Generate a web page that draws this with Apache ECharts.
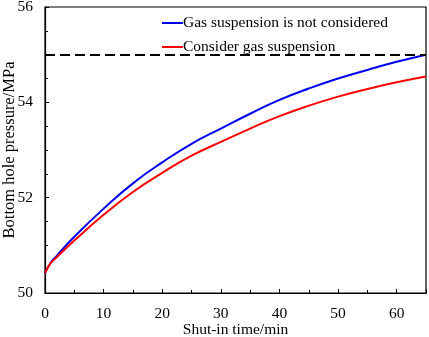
<!DOCTYPE html>
<html><head><meta charset="utf-8">
<script src="https://cdn.jsdelivr.net/npm/echarts@6/dist/echarts.min.js"></script>
<style>html,body{margin:0;padding:0;background:#fff}#c{width:429px;height:337px}</style>
</head><body><div id="c"></div>
<script>
const time = [0, 1, 2, 5, 10, 15, 20, 25, 30, 35, 40, 45, 50, 55, 60, 65];
const notConsidered = [50.42, 50.64, 50.78, 51.18, 51.77, 52.30, 52.74, 53.13, 53.45, 53.76, 54.05, 54.29, 54.50, 54.68, 54.85, 55.00];
const considered = [50.42, 50.63, 50.75, 51.10, 51.64, 52.12, 52.52, 52.88, 53.17, 53.45, 53.71, 53.93, 54.12, 54.28, 54.42, 54.54];
const referencePressure = 55;
const seriesNames = ['Gas suspension is not considered', 'Consider gas suspension'];

const font = 'Liberation Serif, Times New Roman, serif';
const chart = echarts.init(document.getElementById('c'), null, {renderer: 'canvas'});
chart.setOption({
  animation: false,
  grid: {left: 45, right: 3, top: 7, bottom: 44, containLabel: false, outerBoundsMode: 'none',
         show: true, borderColor: '#000', borderWidth: 1.2, backgroundColor: 'transparent'},
  legend: {
    left: 157, top: 10, orient: 'vertical', itemGap: 8,
    itemWidth: 21, itemHeight: 2, icon: 'rect',
    textStyle: {fontFamily: font, fontSize: 15.5, color: '#000', padding: [0, 0, 0, -5]},
    data: seriesNames
  },
  xAxis: {
    type: 'value', min: 0, max: 65, interval: 10,
    name: 'Shut-in time/min', nameLocation: 'middle', nameGap: 29, nameMoveOverlap: false,
    nameTextStyle: {fontFamily: font, fontSize: 15.5, color: '#000'},
    axisLine: {lineStyle: {color: '#000', width: 1.2}},
    axisTick: {inside: true, length: 4, lineStyle: {color: '#000'}},
    minorTick: {show: true, splitNumber: 2, length: 3, lineStyle: {color: '#000'}},
    axisLabel: {fontFamily: font, fontSize: 15.5, color: '#000', margin: 13, showMaxLabel: false},
    splitLine: {show: false}
  },
  yAxis: {
    type: 'value', min: 50, max: 56, interval: 2,
    name: 'Bottom hole pressure/MPa', nameLocation: 'middle', nameGap: 27, nameMoveOverlap: false,
    nameTextStyle: {fontFamily: font, fontSize: 16.5, color: '#000'},
    axisLine: {show: true, lineStyle: {color: '#000', width: 1.2}},
    axisTick: {show: true, inside: true, length: 4, lineStyle: {color: '#000'}},
    minorTick: {show: true, splitNumber: 4, length: 3, lineStyle: {color: '#000'}},
    axisLabel: {fontFamily: font, fontSize: 15.5, color: '#000', margin: 12},
    splitLine: {show: false}
  },
  series: [
    {
      name: seriesNames[0], type: 'line', smooth: true, symbol: 'none',
      data: time.map((t, i) => [t, notConsidered[i]]),
      lineStyle: {color: '#0000ee', width: 2}, itemStyle: {color: '#0000ee'},
      markLine: {
        silent: true, symbol: 'none', label: {show: false},
        lineStyle: {color: '#000', type: [10, 5], width: 2},
        data: [{yAxis: referencePressure}]
      }
    },
    {
      name: seriesNames[1], type: 'line', smooth: true, symbol: 'none',
      data: time.map((t, i) => [t, considered[i]]),
      lineStyle: {color: '#ff0000', width: 2}, itemStyle: {color: '#ff0000'}
    }
  ]
});
</script></body></html>
